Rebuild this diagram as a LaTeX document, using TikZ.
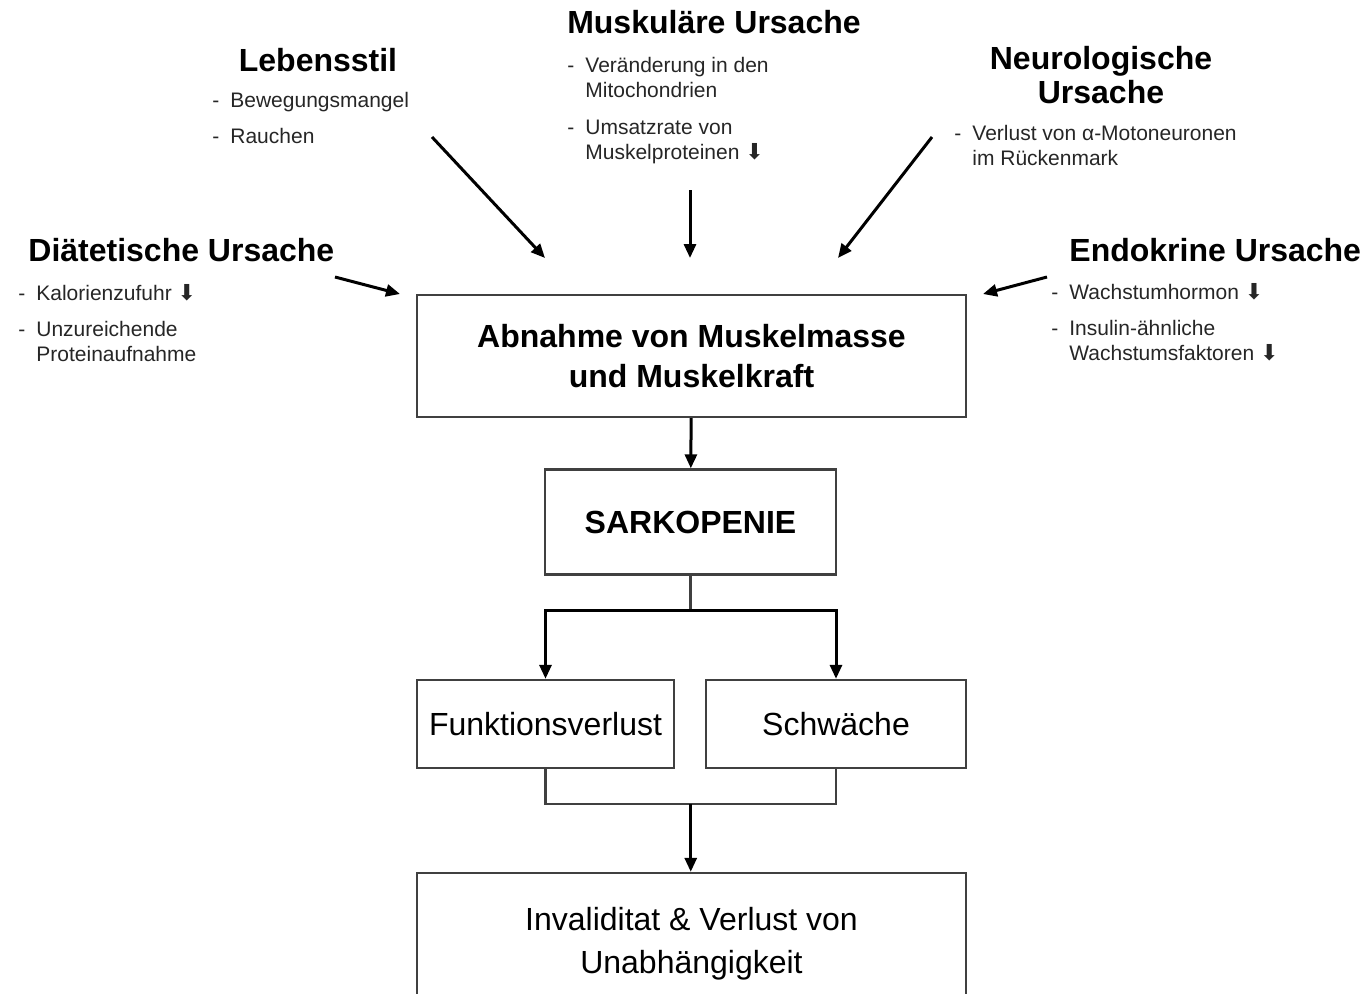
\documentclass[tikz,border=0pt]{standalone}
\usepackage{fontspec}
\setmainfont{Liberation Sans}
\newfontfamily\pfeilfont{DejaVu Sans}
\usetikzlibrary{arrows.meta,calc}

\newcommand{\runter}{{\pfeilfont\fontsize{11}{11}\selectfont ⬇}}
\newcommand{\spiegel}{\llap{-\hspace{5.5pt}}}

\tikzset{
  kasten/.style={rectangle, draw=black!75, line width=1.2pt, inner sep=2pt, align=center},
  titel/.style={font=\fontsize{16}{17}\selectfont\bfseries, inner sep=0pt, align=center, anchor=base},
  punkt/.style={font=\fontsize{10.5}{12.5}\selectfont, inner sep=0pt, align=left, anchor=base west, text=black!85},
  pfeil/.style={-{Triangle[width=6pt,length=7pt]}, line width=1.5pt},
  linie/.style={draw=black!75, line width=1.2pt},
}

\begin{document}
\begin{tikzpicture}[x=0.5pt, y=-0.5pt]
  \useasboundingbox (0,0) rectangle (1367,993);

  % Ursachen (oben und seitlich), Grundlinie der letzten Zeile
  \node[titel] (lebensstil) at (318, 71)  {Lebensstil};
  \node[titel] (muskulaer)  at (714, 33)  {Muskuläre Ursache};
  \node[titel] (neuro)      at (1101, 103) {Neurologische\\Ursache};
  \node[titel, anchor=base west] (diaet) at (28, 261)   {Diätetische Ursache};
  \node[titel, anchor=base west] (endo)  at (1069, 261) {Endokrine Ursache};

  % Stichpunkte
  \node[punkt] (bewegung) at (230, 107) {\spiegel Bewegungsmangel};
  \node[punkt] (rauchen)  at (230, 143) {\spiegel Rauchen};
  \node[punkt] (mito)     at (585, 97)  {\spiegel Veränderung in den\\Mitochondrien};
  \node[punkt] (umsatz)   at (585, 159) {\spiegel Umsatzrate von\\Muskelproteinen \runter};
  \node[punkt] (moto)     at (972, 165) {\spiegel Verlust von α-Motoneuronen\\im Rückenmark};
  \node[punkt] (kalorien) at (36, 300)  {\spiegel Kalorienzufuhr \runter};
  \node[punkt] (protein)  at (36, 361)  {\spiegel Unzureichende\\Proteinaufnahme};
  \node[punkt] (wachstum) at (1069, 299) {\spiegel Wachstumhormon \runter};
  \node[punkt] (insulin)  at (1069, 360) {\spiegel Insulin-ähnliche\\Wachstumsfaktoren \runter};

  % Kaesten (mittlere Spalte)
  \node[kasten, minimum width=274.5pt, minimum height=61pt,
        font=\fontsize{16}{20}\selectfont\bfseries] (abnahme) at (691.5, 356)
        {Abnahme von Muskelmasse\\und Muskelkraft};
  \node[kasten, minimum width=145.5pt, minimum height=52.5pt,
        font=\fontsize{16}{20}\selectfont\bfseries] (sark) at (690.5, 522) {SARKOPENIE};
  \node[kasten, minimum width=128.5pt, minimum height=44pt,
        font=\fontsize{16}{20}\selectfont] (funktion) at (545.5, 724) {Funktionsverlust};
  \node[kasten, minimum width=130pt, minimum height=44pt,
        font=\fontsize{16}{20}\selectfont] (schwaeche) at (836, 724) {Schwäche};
  \node[kasten, minimum width=274.5pt, minimum height=71pt,
        font=\fontsize{16}{21.5}\selectfont] (invalid) at (691.5, 944)
        {Invaliditat \& Verlust von\\Unabhängigkeit};

  % Pfeilenden der Ursachen
  \coordinate (diaet-a)  at (335, 277);  \coordinate (diaet-e)  at (400, 294);
  \coordinate (leben-a)  at (432, 137);  \coordinate (leben-e)  at (545, 258);
  \coordinate (muskel-a) at (690, 190);  \coordinate (muskel-e) at (690, 258);
  \coordinate (neuro-a)  at (932, 137);  \coordinate (neuro-e)  at (838, 258);
  \coordinate (endo-a)   at (1047, 277); \coordinate (endo-e)   at (983, 294);

  % Verbindungen
  \draw[pfeil] (diaet-a)  -- (diaet-e);
  \draw[pfeil] (leben-a)  -- (leben-e);
  \draw[pfeil] (muskel-a) -- (muskel-e);
  \draw[pfeil] (neuro-a)  -- (neuro-e);
  \draw[pfeil] (endo-a)   -- (endo-e);
  \draw[pfeil] (abnahme) -- (sark);
  \draw[linie] (sark.south) -- ++(0, 35) coordinate (gabel);
  \draw[pfeil] (gabel) -| (funktion.north);
  \draw[pfeil] (gabel) -| (schwaeche.north);
  \coordinate (zusammen) at ($(funktion.south)!0.5!(schwaeche.south) + (0, 35)$);
  \draw[linie] (funktion.south) |- (zusammen) -| (schwaeche.south);
  \draw[pfeil] (zusammen) -- (zusammen |- invalid.north);
\end{tikzpicture}
\end{document}
